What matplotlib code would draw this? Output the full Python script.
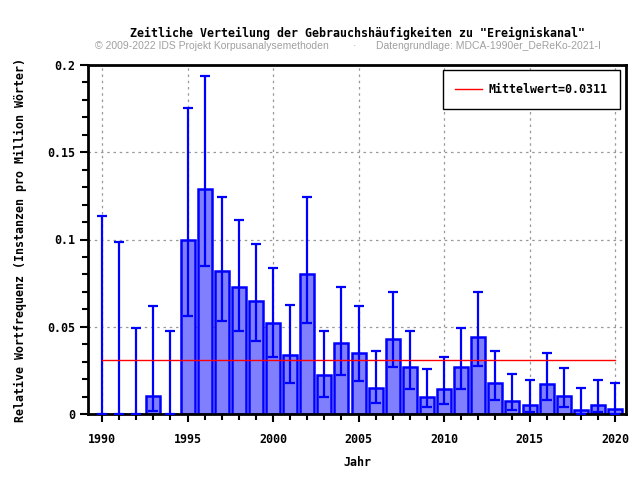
import matplotlib
matplotlib.use("Agg")
import matplotlib.pyplot as plt
from matplotlib.ticker import MultipleLocator
import numpy as np

years = list(range(1990, 2021))
values = [0.0, 0.0, 0.0, 0.0105, 0.0, 0.0995, 0.1288, 0.0818, 0.0730, 0.0646,
          0.0523, 0.0336, 0.0804, 0.0222, 0.0405, 0.0348, 0.0151, 0.0432, 0.0268,
          0.0099, 0.0141, 0.0268, 0.0440, 0.0176, 0.0076, 0.0053, 0.0170, 0.0105,
          0.0025, 0.0053, 0.0030]
err_low = [0.0, 0.0, 0.0, 0.0019, 0.0, 0.0562, 0.0848, 0.0535, 0.0478, 0.0420,
           0.0329, 0.0180, 0.0523, 0.0099, 0.0225, 0.0191, 0.0065, 0.0271, 0.0145,
           0.0042, 0.0059, 0.0145, 0.0277, 0.0082, 0.0025, 0.0013, 0.0082, 0.0042,
           0.0, 0.0013, 0.0]
err_high = [0.1137, 0.0988, 0.0495, 0.0620, 0.0478, 0.1755, 0.1939, 0.1245, 0.1112,
            0.0976, 0.0838, 0.0627, 0.1245, 0.0478, 0.0730, 0.0620, 0.0363, 0.0701,
            0.0478, 0.0260, 0.0329, 0.0495, 0.0701, 0.0363, 0.0231, 0.0197, 0.0351,
            0.0265, 0.0151, 0.0197, 0.0180]
mean_value = 0.0311

mono = "DejaVu Sans Mono"
fs = 8.4

fig = plt.figure(figsize=(6.4, 4.8), dpi=100)
ax = fig.add_axes([88/640, 66/480, (626-88)/640, (414-65)/480])

v = np.array(values)
lo = v - np.array(err_low)
hi = np.array(err_high) - v
ax.bar(years, values, width=0.82, color="#8080ff", edgecolor="#0000ff", linewidth=1.8, zorder=2)
ax.errorbar(years, values, yerr=[lo, hi], fmt="none", ecolor="#0000ff",
            elinewidth=1.6, capsize=3.5, capthick=1.6, zorder=3)
ax.plot([years[0], years[-1]], [mean_value, mean_value], color="red", linewidth=1,
        label="Mittelwert=0.0311", zorder=4)

ax.set_xlim(1989.18, 2020.64)
ax.set_ylim(0, 0.2)
ax.xaxis.set_major_locator(MultipleLocator(5))
ax.xaxis.set_minor_locator(MultipleLocator(1))
ax.yaxis.set_major_locator(MultipleLocator(0.05))
ax.yaxis.set_minor_locator(MultipleLocator(0.01))
ax.set_yticks([0, 0.05, 0.1, 0.15, 0.2])
ax.set_yticklabels(["0", "0.05", "0.1", "0.15", "0.2"])
ax.tick_params(which="major", direction="out", length=6, width=1.5)
ax.tick_params(which="minor", direction="out", length=4, width=1.5)
ax.tick_params(axis="x", which="major", pad=8)
for lab in ax.get_xticklabels() + ax.get_yticklabels():
    lab.set_fontfamily(mono)
    lab.set_fontweight("bold")
    lab.set_fontsize(fs)
ax.grid(True, which="major", linestyle=(0, (2, 3)), color="#999999", linewidth=0.9, zorder=0)
ax.set_axisbelow(True)
for s in ax.spines.values():
    s.set_linewidth(2)

ax.set_xlabel("Jahr", fontfamily=mono, fontweight="bold", fontsize=fs, labelpad=7)
ax.set_ylabel("Relative Wortfrequenz (Instanzen pro Million Wörter)", fontfamily=mono,
              fontweight="bold", fontsize=fs, labelpad=14)

leg = ax.legend(loc="upper right", prop={"family": mono, "weight": "bold", "size": fs},
                fancybox=False, edgecolor="black", framealpha=1, borderpad=1.1,
                handlelength=2.3, handletextpad=0.5, borderaxespad=0,
                bbox_to_anchor=(1 - 6/538, 1 - 5/349))
leg.get_frame().set_linewidth(1)

fig.text(357/640, 1 - 33/480, 'Zeitliche Verteilung der Gebrauchshäufigkeiten zu "Ereigniskanal"',
         ha="center", va="center", fontfamily=mono, fontweight="bold", fontsize=fs)
fig.text(95/640, 1 - 46/480, "© 2009-2022 IDS Projekt Korpusanalysemethoden",
         ha="left", va="center", fontfamily="Liberation Sans", fontsize=7.5, color="#a0a0a0")
fig.text(355/640, 1 - 46/480, "·", ha="center", va="center", fontfamily="Liberation Sans",
         fontsize=7.5, color="#a0a0a0")
fig.text(376/640, 1 - 46/480, "Datengrundlage: MDCA-1990er_DeReKo-2021-I",
         ha="left", va="center", fontfamily="Liberation Sans", fontsize=7.5, color="#a0a0a0")

fig.savefig("out.png", dpi=100)
